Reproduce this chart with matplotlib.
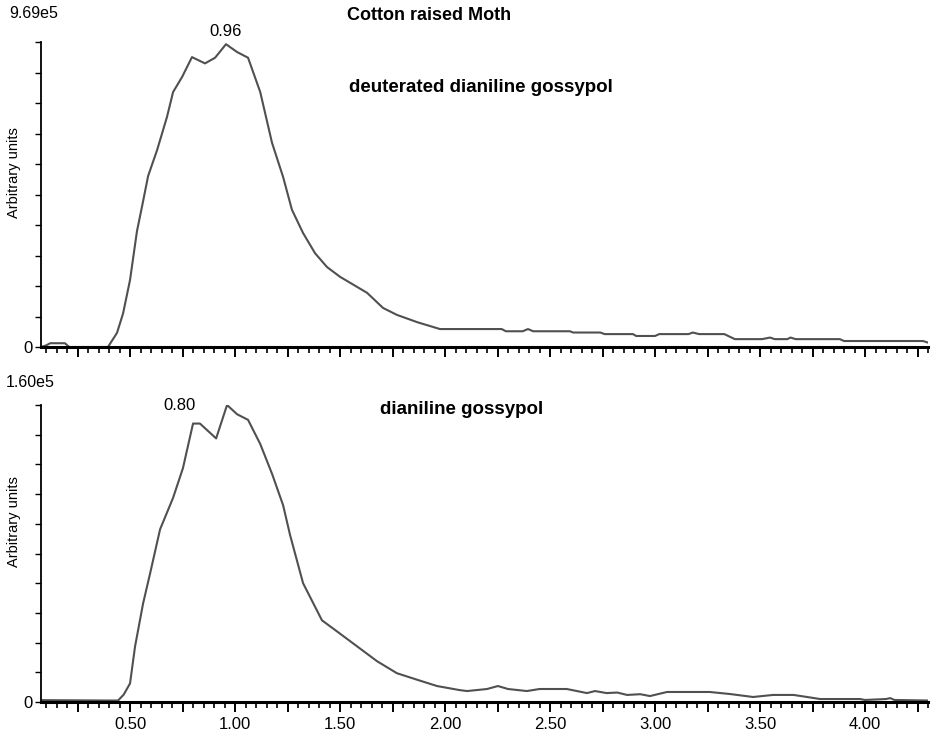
import numpy as np
import matplotlib
matplotlib.use("Agg")
import matplotlib.pyplot as plt
from matplotlib.ticker import MultipleLocator, FuncFormatter

plt.rcParams['font.family'] = ['Liberation Sans', 'DejaVu Sans']

# deuterated dianiline gossypol (units of 1e5)
x_top = [0.076, 0.10, 0.12, 0.19, 0.21, 0.395, 0.438, 0.467, 0.50, 0.533, 0.557, 0.586,
         0.629, 0.676, 0.705, 0.748, 0.795, 0.857, 0.905, 0.957, 1.01, 1.062, 1.12,
         1.176, 1.229, 1.271, 1.324, 1.381, 1.438, 1.50, 1.581, 1.629, 1.705, 1.771,
         1.867, 1.976, 2.27, 2.29, 2.37, 2.395, 2.42, 2.595, 2.61, 2.74, 2.76, 2.895,
         2.91, 3.00, 3.02, 3.16, 3.18, 3.21, 3.33, 3.38, 3.51, 3.548, 3.57, 3.63,
         3.645, 3.67, 3.88, 3.90, 4.276, 4.30]
y_top = [0.0, 0.05, 0.12, 0.12, 0.0, 0.0, 0.45, 1.07, 2.13, 3.68, 4.46, 5.43,
         6.26, 7.31, 8.10, 8.58, 9.21, 9.01, 9.19, 9.62, 9.37, 9.19, 8.10,
         6.49, 5.40, 4.36, 3.62, 2.98, 2.54, 2.23, 1.91, 1.72, 1.24, 1.02,
         0.79, 0.57, 0.57, 0.50, 0.50, 0.57, 0.50, 0.50, 0.46, 0.46, 0.41, 0.41,
         0.35, 0.35, 0.41, 0.41, 0.46, 0.41, 0.41, 0.25, 0.25, 0.30, 0.25, 0.25,
         0.30, 0.25, 0.25, 0.19, 0.19, 0.14]

# dianiline gossypol (units of 1e5)
x_bot = [0.076, 0.40, 0.443, 0.47, 0.50, 0.524, 0.562, 0.595, 0.643, 0.705, 0.752,
         0.80, 0.833, 0.91, 0.962, 1.01, 1.062, 1.12, 1.176, 1.229, 1.262, 1.324,
         1.414, 1.486, 1.581, 1.676, 1.771, 1.867, 1.962, 2.07, 2.105, 2.20, 2.252,
         2.30, 2.39, 2.45, 2.58, 2.676, 2.714, 2.77, 2.82, 2.867, 2.93, 2.976, 3.057,
         3.26, 3.357, 3.467, 3.562, 3.66, 3.724, 3.786, 3.976, 4.00, 4.10, 4.12,
         4.14, 4.30]
y_bot = [0.010, 0.008, 0.008, 0.040, 0.10, 0.30, 0.53, 0.69, 0.93, 1.10, 1.26,
         1.50, 1.50, 1.42, 1.60, 1.55, 1.52, 1.39, 1.23, 1.06, 0.90, 0.64,
         0.44, 0.38, 0.30, 0.22, 0.155, 0.12, 0.086, 0.064, 0.059, 0.070, 0.086,
         0.070, 0.059, 0.070, 0.070, 0.048, 0.059, 0.048, 0.051, 0.038, 0.042, 0.032, 0.054,
         0.054, 0.043, 0.027, 0.038, 0.038, 0.027, 0.016, 0.016, 0.011, 0.016, 0.021,
         0.011, 0.008]

xtick_pos = [0.50, 1.00, 1.50, 2.00, 2.50, 3.00, 3.50, 4.00]
xtick_labels = ["0.50", "1.00", "1.50", "2.00", "2.50", "3.00", "3.50", "4.00"]

panels = [
    dict(x=x_top, y=y_top, ymax=9.69, top_label="9.69e5", name="deuterated dianiline gossypol",
         peak="0.96", rect=[41/931, 1-347/731, 887/931, 305/731], ylab_y=173),
    dict(x=x_bot, y=y_bot, ymax=1.60, top_label="1.60e5", name="dianiline gossypol",
         peak="0.80", rect=[41/931, 1-702/731, 887/931, 297/731], ylab_y=522),
]

label_map = {round(p, 2): l for p, l in zip(xtick_pos, xtick_labels)}
def xfmt(v, pos):
    return label_map.get(round(v, 2), "")

fig = plt.figure(figsize=(9.31, 7.31), dpi=100)
line_col = "#505050"

for i, p in enumerate(panels):
    ax = fig.add_axes(p["rect"])
    ax.plot(p["x"], p["y"], color=line_col, lw=1.5)
    ax.set_xlim(0.076, 4.30)
    ax.set_ylim(0, p["ymax"])
    for s in ["top", "right"]:
        ax.spines[s].set_visible(False)
    ax.spines["bottom"].set_linewidth(2.2)
    ax.spines["left"].set_linewidth(1.3)
    ax.xaxis.set_minor_locator(MultipleLocator(0.05))
    ax.xaxis.set_major_locator(MultipleLocator(0.25))
    if i == 1:
        ax.xaxis.set_major_formatter(FuncFormatter(xfmt))
        ax.tick_params(axis="x", which="major", labelsize=12, pad=4)
    else:
        ax.tick_params(axis="x", labelbottom=False)
    ax.tick_params(axis="x", which="major", length=7, width=1.4, direction="out")
    ax.tick_params(axis="x", which="minor", length=4, width=1.2, direction="out")
    ax.set_yticks(np.linspace(0, p["ymax"], 11))
    ax.set_yticklabels(["0"] + [""] * 10)
    ax.tick_params(axis="y", length=4, width=1.0, labelsize=12, pad=2)
    # y label placed as figure text so it stays inside the canvas
    fig.text(14/931, 1 - p["ylab_y"]/731, "Arbitrary units", fontsize=10.5,
             rotation=90, ha="center", va="center")

fig.text(34/931, 1-14/731, panels[0]["top_label"], fontsize=11.5, ha="center", va="center")
fig.text(30/931, 1-383/731, panels[1]["top_label"], fontsize=11.5, ha="center", va="center")
fig.text(429/931, 1-15/731, "Cotton raised Moth", fontsize=13, fontweight="bold", ha="center", va="center")
fig.text(481/931, 1-88/731, panels[0]["name"], fontsize=13.5, fontweight="bold", ha="center", va="center")
fig.text(462/931, 1-410/731, panels[1]["name"], fontsize=13.5, fontweight="bold", ha="center", va="center")
fig.text(226/931, 1-31/731, panels[0]["peak"], fontsize=12, ha="center", va="center")
fig.text(180/931, 1-405/731, panels[1]["peak"], fontsize=12, ha="center", va="center")

fig.savefig("out.png", dpi=100)
